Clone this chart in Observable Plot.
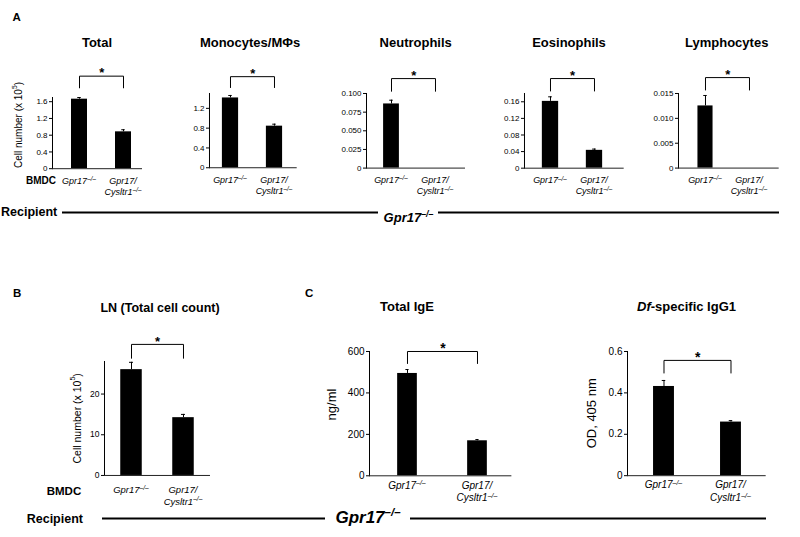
<!DOCTYPE html>
<html><head><meta charset="utf-8">
<script src="https://cdn.jsdelivr.net/npm/d3@7"></script>
<script src="https://cdn.jsdelivr.net/npm/@observablehq/plot@0.6"></script>
<style>
html,body{margin:0;padding:0;background:#fff;}
#fig{position:relative;width:800px;height:537px;overflow:hidden;background:#fff;}
#fig svg{position:absolute;overflow:visible;}
</style></head><body><div id="fig"></div>
<script>
// ---------- DATA ----------
const groups = ["Gpr17-/-", "Gpr17/Cysltr1-/-"];
const xTickLabels = [[["Gpr17", "–/–"]], [["Gpr17/", ""], ["Cysltr1", "–/–"]]];

const totalVals = [1.66, 0.88],   totalErr = [0.04, 0.05];
const monoVals  = [1.41, 0.84],   monoErr  = [0.05, 0.04];
const neutVals  = [0.086, 0],     neutErr  = [0.005, 0];
const eosVals   = [0.161, 0.043], eosErr   = [0.011, 0.003];
const lymphVals = [0.0125, 0],    lymphErr = [0.0021, 0];
const lnVals    = [26.0, 14.2],   lnErr    = [1.8, 0.8];
const igeVals   = [494, 169],     igeErr   = [19, 6];
const iggVals   = [0.431, 0.259], iggErr   = [0.029, 0.007];

const totalTicks = [0, 0.4, 0.8, 1.2, 1.6];        const totalTickLabels = ["0", "0.4", "0.8", "1.2", "1.6"];
const monoTicks  = [0, 0.4, 0.8, 1.2];             const monoTickLabels  = ["0", "0.4", "0.8", "1.2"];
const neutTicks  = [0, 0.025, 0.05, 0.075, 0.1];   const neutTickLabels  = ["0", "0.025", "0.050", "0.075", "0.100"];
const eosTicks   = [0, 0.04, 0.08, 0.12, 0.16];    const eosTickLabels   = ["0", "0.04", "0.08", "0.12", "0.16"];
const lymphTicks = [0, 0.005, 0.01, 0.015];        const lymphTickLabels = ["0", "0.005", "0.010", "0.015"];
const lnTicks    = [0, 10, 20];                    const lnTickLabels    = ["0", "10", "20"];
const igeTicks   = [0, 200, 400, 600];             const igeTickLabels   = ["0", "200", "400", "600"];
const iggTicks   = [0, 0.2, 0.4, 0.6];             const iggTickLabels   = ["0", "0.2", "0.4", "0.6"];

// axis maxima and significance bracket levels (data units)
const yMaxes     = {total: 1.7, mono: 1.5, neut: 0.1, eos: 0.18, lymph: 0.015, ln: 28, ige: 600, igg: 0.6};
const bracketTop = {total: 2.21, mono: 1.84, neut: 0.120, eos: 0.216, lymph: 0.0182, ln: 32.2, ige: 600, igg: 0.557};
const bracketLeg = {total: 1.93, mono: 1.62, neut: 0.103, eos: 0.186, lymph: 0.0157, ln: 28.8, ige: 542, igg: 0.496};

// ---------- LAYOUT ----------
const FONT = '"Liberation Sans", Arial, Helvetica, sans-serif';
const LAY = {
  total: {axisX: 52,    zero: 167.7, xEnd: 142,   c1: 79,    c2: 123.5, barW: 16.5, tickFont: 8,   xFont: 9,   lab1: 15.8, labStep: 10.8},
  mono:  {axisX: 209,   zero: 167,   xEnd: 296.7, c1: 230,   c2: 274.5, barW: 16.7, tickFont: 8,   xFont: 9,   lab1: 15.8, labStep: 10.8},
  neut:  {axisX: 366,   zero: 167.3, xEnd: 465,   c1: 390.8, c2: 435.3, barW: 16.3, tickFont: 8,   xFont: 9,   lab1: 15.8, labStep: 10.8},
  eos:   {axisX: 524.3, zero: 167.3, xEnd: 624,   c1: 550,   c2: 594.3, barW: 16.6, tickFont: 8,   xFont: 9,   lab1: 15.8, labStep: 10.8},
  lymph: {axisX: 678.3, zero: 167.3, xEnd: 779,   c1: 705.5, c2: 750,   barW: 15.6, tickFont: 8,   xFont: 9,   lab1: 15.8, labStep: 10.8},
  ln:    {axisX: 104,   zero: 475,   xEnd: 210,   c1: 130.5, c2: 182.5, barW: 21.5, tickFont: 8.5, xFont: 9.5, lab1: 18,   labStep: 11.6},
  ige:   {axisX: 369.3, zero: 475,   xEnd: 511.7, c1: 406.7, c2: 477.5, barW: 20.5, tickFont: 10,  xFont: 10,  lab1: 13.3, labStep: 12.4},
  igg:   {axisX: 627.3, zero: 475.3, xEnd: 766,   c1: 663.3, c2: 730.8, barW: 21.4, tickFont: 10,  xFont: 10,  lab1: 13.3, labStep: 12.4}
};
const pxPerUnit = {total: 41.875, mono: 49.5, neut: 746, eos: 415, lymph: 4973, ln: 4.07, ige: 0.2072, igg: 207};
const SUP_RAISE = 0.33;

const fig = document.getElementById("fig");

// ---------- overlay text ----------
const ov = d3.select(fig).append("svg").attr("width", 800).attr("height", 537)
  .style("left", "0px").style("top", "0px").attr("font-family", FONT);

function addText(x, y, parts, {size = 12, weight = "normal", anchor = "start", rotate = 0, italic = false} = {}) {
  const g = ov.append("g").attr("transform", `translate(${x},${y}) rotate(${rotate})`);
  const t = g.append("text").attr("font-size", size).attr("font-weight", weight).attr("text-anchor", anchor)
    .attr("font-style", italic ? "italic" : "normal").attr("fill", "#000");
  if (rotate) t.attr("dominant-baseline", "central");
  parts.forEach(p => {
    if (typeof p === "string") { t.append("tspan").text(p); return; }
    const s = t.append("tspan").text(p.t);
    if (p.italic) s.attr("font-style", "italic");
    if (p.sup) s.attr("dy", -size * 0.4).attr("font-size", size * 0.68);
    if (p.down) s.attr("dy", size * 0.4);
  });
}

// panel letters
addText(12.5, 21, ["A"], {size: 11.5, weight: "bold"});
addText(13, 296.5, ["B"], {size: 11.5, weight: "bold"});
addText(305, 296.5, ["C"], {size: 11.5, weight: "bold"});

// titles
addText(97, 47, ["Total"], {size: 13, weight: "bold", anchor: "middle"});
addText(250, 47, ["Monocytes/MΦs"], {size: 13, weight: "bold", anchor: "middle"});
addText(415.7, 47, ["Neutrophils"], {size: 13, weight: "bold", anchor: "middle"});
addText(569, 47, ["Eosinophils"], {size: 13, weight: "bold", anchor: "middle"});
addText(726.7, 47, ["Lymphocytes"], {size: 13, weight: "bold", anchor: "middle"});
addText(160, 312, ["LN (Total cell count)"], {size: 12.5, weight: "bold", anchor: "middle"});
addText(407, 311, ["Total IgE"], {size: 13, weight: "bold", anchor: "middle"});
addText(686.5, 311, [{t: "Df", italic: true}, "-specific IgG1"], {size: 13, weight: "bold", anchor: "middle"});

// y labels
addText(18.3, 125, ["Cell number (x 10", {t: "5", sup: true}, {t: ")", down: true}], {size: 10, anchor: "middle", rotate: -90});
addText(76.7, 418.3, ["Cell number (x 10", {t: "5", sup: true}, {t: ")", down: true}], {size: 10.5, anchor: "middle", rotate: -90});
addText(331.3, 404.5, ["ng/ml"], {size: 13, anchor: "middle", rotate: -90});
addText(590.8, 413.3, ["OD, 405 nm"], {size: 13, anchor: "middle", rotate: -90});

// BMDC / Recipient
addText(26, 184, ["BMDC"], {size: 10, weight: "bold"});
addText(46.7, 495, ["BMDC"], {size: 11.5, weight: "bold"});
addText(1, 216, ["Recipient"], {size: 12.5, weight: "bold"});
addText(26.7, 522.5, ["Recipient"], {size: 12.5, weight: "bold"});
addText(408.5, 222, [{t: "Gpr17"}, {t: "–/–", sup: true}], {size: 13, weight: "bold", anchor: "middle", italic: true});
addText(368, 523, [{t: "Gpr17"}, {t: "–/–", sup: true}], {size: 17, weight: "bold", anchor: "middle", italic: true});
[[62, 378, 212.5], [438, 779, 212.5], [102, 325, 518.5], [410, 766, 518.5]].forEach(([a, b, y]) =>
  ov.append("line").attr("x1", a).attr("x2", b).attr("y1", y).attr("y2", y).attr("stroke", "#000").attr("stroke-width", 2.2));

// ---------- panels ----------
function panel(key, vals, errs, ticks, tickLabels) {
  const L = LAY[key];
  const yMax = yMaxes[key];
  const top = L.zero - yMax * pxPerUnit[key];
  const mL = 50, mR = 10, mT = 40, mB = 50;
  const frameH = L.zero - top, frameW = L.xEnd - L.axisX;
  const left = L.axisX - mL, svgTop = top - mT;
  const step = L.c2 - L.c1;
  const data = groups.map((g, i) => ({g, v: vals[i], e: errs[i]}));
  const withErr = data.filter(d => d.e > 0);
  const fmt = new Map(ticks.map((t, i) => [t, tickLabels[i]]));
  const bi = (step - L.barW) / 2, ci = (step - 4) / 2;
  const brTop = bracketTop[key], brLeg = bracketLeg[key];
  const bracket = [{g: groups[0], y: brLeg}, {g: groups[0], y: brTop}, {g: groups[1], y: brTop}, {g: groups[1], y: brLeg}];

  // category labels (italic, with superscripts); multi-line labels are one text element
  const xLabelMark = (index, scales) => {
    const g = d3.create("svg:g").attr("font-style", "italic").attr("font-size", L.xFont)
      .attr("text-anchor", "middle").attr("fill", "#000");
    const bw = scales.x.bandwidth ? scales.x.bandwidth() : 0;
    const y0 = scales.y(0);
    const raise = L.xFont * SUP_RAISE;
    groups.forEach((gname, i) => {
      const cx = scales.x(gname) + bw / 2;
      const t = g.append("text").attr("x", cx).attr("y", y0 + L.lab1);
      xTickLabels[i].forEach(([base, sup], j) => {
        const b = t.append("tspan").text(base);
        if (j > 0) {
          const prevSup = xTickLabels[i][j - 1][1];
          b.attr("x", cx).attr("dy", L.labStep + (prevSup ? raise : 0));
        }
        if (sup) t.append("tspan").attr("dy", -raise).attr("font-size", L.xFont * 0.7).text(sup);
      });
    });
    return g.node();
  };

  const svg = Plot.plot({
    width: mL + frameW + mR, height: mT + frameH + mB,
    marginLeft: mL, marginRight: mR, marginTop: mT, marginBottom: mB,
    style: {background: "transparent", overflow: "visible", fontFamily: FONT, fontSize: L.tickFont + "px", color: "#000"},
    x: {type: "band", domain: groups, range: [L.c1 - step / 2 - left, L.c2 + step / 2 - left], padding: 0, axis: null},
    y: {domain: [0, yMax], ticks, tickFormat: d => fmt.get(d), tickSize: 3, tickPadding: 2, line: true, label: null},
    marks: [
      Plot.barY(data, {x: "g", y: "v", fill: "#000", insetLeft: bi, insetRight: bi}),
      Plot.ruleX(withErr, {x: "g", y1: "v", y2: d => d.v + d.e, stroke: "#000", strokeWidth: 1}),
      Plot.tickY(withErr, {x: "g", y: d => d.v + d.e, stroke: "#000", strokeWidth: 1, insetLeft: ci, insetRight: ci}),
      Plot.ruleY([0], {stroke: "#222", strokeWidth: 1}),
      Plot.line(bracket, {x: "g", y: "y", stroke: "#000", strokeWidth: 1}),
      Plot.text([groups[0]], {x: d => d, y: () => brTop, text: () => "*", dx: step / 2, dy: -3,
        fontSize: key === "ige" || key === "igg" ? 14 : 13, fontWeight: "bold", fill: "#000"}),
      xLabelMark
    ]
  });
  svg.style.left = left + "px";
  svg.style.top = svgTop + "px";
  svg.style.maxWidth = "none";
  fig.appendChild(svg);
}

panel("total", totalVals, totalErr, totalTicks, totalTickLabels);
panel("mono", monoVals, monoErr, monoTicks, monoTickLabels);
panel("neut", neutVals, neutErr, neutTicks, neutTickLabels);
panel("eos", eosVals, eosErr, eosTicks, eosTickLabels);
panel("lymph", lymphVals, lymphErr, lymphTicks, lymphTickLabels);
panel("ln", lnVals, lnErr, lnTicks, lnTickLabels);
panel("ige", igeVals, igeErr, igeTicks, igeTickLabels);
panel("igg", iggVals, iggErr, iggTicks, iggTickLabels);
</script>
</body></html>
